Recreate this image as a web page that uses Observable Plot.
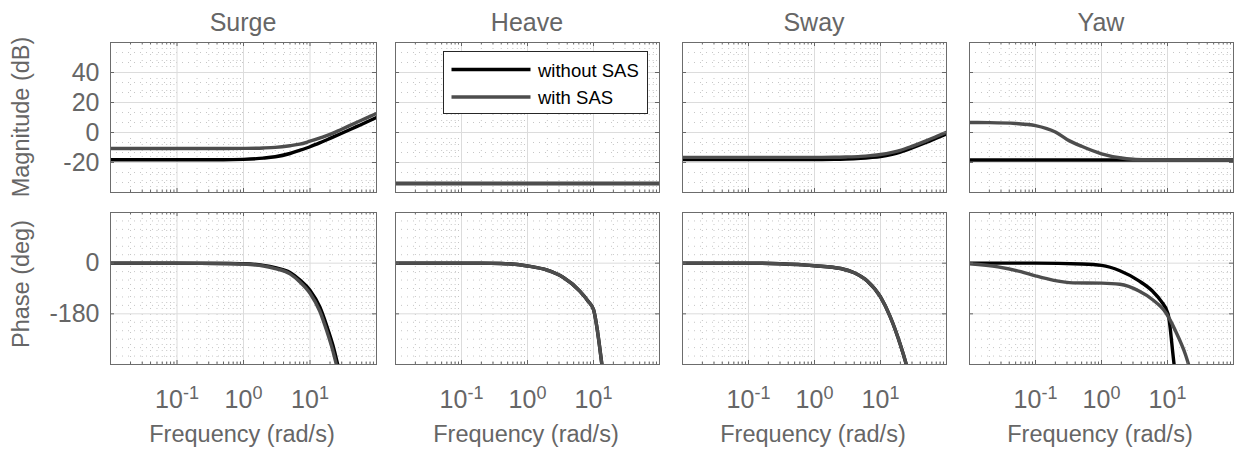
<!DOCTYPE html>
<html>
<head>
<meta charset="utf-8">
<script src="https://cdn.jsdelivr.net/npm/d3@7"></script>
<script src="https://cdn.jsdelivr.net/npm/@observablehq/plot@0.6"></script>
<style>
  html, body { margin: 0; padding: 0; background: #fff; }
  #root { position: relative; width: 1234px; height: 452px; overflow: hidden; }
  #root > svg { position: absolute; }
</style>
</head>
<body>
<div id="root"></div>
<script>
// ---------------- data ----------------
const dofNames = ["Surge", "Heave", "Sway", "Yaw"];
const seriesNames = ["without SAS", "with SAS"];
const seriesColors = ["#000000", "#4d4d4d"];

const magFreq = [0.01, 0.02, 0.05, 0.1, 0.2, 0.3, 0.5, 1, 2, 3, 5, 7, 10, 15, 20, 30, 50, 70, 100];

const surgeMagWithout = [-18.2, -18.2, -18.2, -18.2, -18.2, -18.2, -18.2, -17.9, -17.1, -16.2, -14.0, -11.9, -9.5, -6.3, -3.9, -0.5, 3.9, 6.8, 10.0];
const surgeMagWith    = [-10.7, -10.7, -10.7, -10.7, -10.7, -10.7, -10.7, -10.6, -10.3, -9.9, -8.8, -7.8, -5.8, -3.3, -1.3, 2.2, 6.7, 9.6, 12.7];
const heaveMagWithout = [-34, -34, -34, -34, -34, -34, -34, -34, -34, -34, -34, -34, -34, -34, -34, -34, -34, -34, -34];
const heaveMagWith    = [-34, -34, -34, -34, -34, -34, -34, -34, -34, -34, -34, -34, -34, -34, -34, -34, -34, -34, -34];
const swayMagWithout  = [-18.0, -18.0, -18.0, -18.0, -18.0, -18.0, -18.0, -18.0, -17.9, -17.7, -17.2, -16.7, -16.0, -14.5, -13.0, -10.3, -6.5, -3.8, -1.0];
const swayMagWith     = [-16.6, -16.6, -16.6, -16.6, -16.6, -16.6, -16.6, -16.6, -16.5, -16.3, -15.9, -15.4, -14.7, -13.3, -11.9, -9.2, -5.4, -2.7, 0.2];
const yawMagWithout   = [-18.3, -18.3, -18.3, -18.3, -18.3, -18.3, -18.3, -18.3, -18.3, -18.3, -18.3, -18.3, -18.3, -18.3, -18.3, -18.3, -18.3, -18.3, -18.3];
const yawMagWith      = [6.7, 6.6, 6.0, 4.6, 0.3, -4.6, -9.2, -14.2, -17.0, -17.8, -18.2, -18.3, -18.3, -18.3, -18.3, -18.3, -18.3, -18.3, -18.3];

const surgePhaseFreq    = [0.01, 0.1, 0.5, 1, 2, 3, 5, 7, 10, 14, 18, 22, 26, 30];
const surgePhaseWithout = [0, 0, -1, -2, -8, -16, -33, -59, -96, -155, -225, -290, -358, -420];
const surgePhaseWith    = [0, 0, -1, -3, -10, -19, -38, -66, -107, -170, -243, -310, -378, -440];

const heavePhaseFreq    = [0.01, 0.2, 0.4, 1, 2, 3.5, 6.2, 8.3, 10, 13.4, 14];
const heavePhaseWithout = [0, 0, -1, -10, -25, -51, -99, -135, -165, -360, -395];
const heavePhaseWith    = [0, 0, -1, -10, -25, -51, -99, -135, -165, -360, -395];

const swayPhaseFreq    = [0.01, 0.1, 0.3, 1, 2.5, 4, 6.3, 10, 14, 20, 24.6, 28];
const swayPhaseWithout = [0, 0, -2, -9, -19, -34, -63, -120, -190, -290, -360, -410];
const swayPhaseWith    = [0, 0, -2, -9, -19, -34, -63, -120, -190, -290, -360, -410];

const yawPhaseFreqWithout = [0.01, 0.1, 0.5, 1, 1.9, 3.7, 5.9, 8, 10.2, 12.6, 13.3];
const yawPhaseWithout     = [0, 0, -3, -8, -27, -63, -99, -135, -180, -360, -400];
const yawPhaseFreqWith    = [0.01, 0.027, 0.06, 0.1, 0.19, 0.37, 1, 1.9, 3.7, 5.9, 9.5, 13.3, 18.8, 21.5];
const yawPhaseWith        = [-2, -13, -30, -45, -61, -70, -71, -75, -99, -129, -177, -242, -326, -370];

// axis ticks
const xTickValues = [0.1, 1, 10];
const xTickExponents = ["-1", "0", "1"];
const xMinorTicks = [0.02,0.03,0.04,0.05,0.06,0.07,0.08,0.09, 0.2,0.3,0.4,0.5,0.6,0.7,0.8,0.9, 2,3,4,5,6,7,8,9, 20,30,40,50,60,70,80,90];
const magTicks = [-20, 0, 20, 40];
const magMinor = [-33.33, -26.67, -13.33, -6.67, 6.67, 13.33, 26.67, 33.33, 46.67, 53.33];
const phaseTicks = [-180, 0];
const phaseMinor = [-330, -300, -270, -240, -210, -150, -120, -90, -60, -30, 30, 60, 90, 120, 150];

// ---------------- assemble tables ----------------
function table(freqA, valsA, freqB, valsB) {
  const out = [];
  freqA.forEach((f, i) => out.push({f, v: valsA[i], s: seriesNames[0]}));
  freqB.forEach((f, i) => out.push({f, v: valsB[i], s: seriesNames[1]}));
  return out;
}
const magTables = [
  table(magFreq, surgeMagWithout, magFreq, surgeMagWith),
  table(magFreq, heaveMagWithout, magFreq, heaveMagWith),
  table(magFreq, swayMagWithout, magFreq, swayMagWith),
  table(magFreq, yawMagWithout, magFreq, yawMagWith)
];
const phaseTables = [
  table(surgePhaseFreq, surgePhaseWithout, surgePhaseFreq, surgePhaseWith),
  table(heavePhaseFreq, heavePhaseWithout, heavePhaseFreq, heavePhaseWith),
  table(swayPhaseFreq, swayPhaseWithout, swayPhaseFreq, swayPhaseWith),
  table(yawPhaseFreqWithout, yawPhaseWithout, yawPhaseFreqWith, yawPhaseWith)
];

// ---------------- layout ----------------
const FONT = '"Liberation Sans", Arial, Helvetica, sans-serif';
const TXT = "#666666";
const cols = [[110, 376], [395, 659], [682, 946], [969, 1233]];
const rowBox = {mag: [42, 192], phase: [212, 364]};
const root = document.getElementById("root");
const NS = "http://www.w3.org/2000/svg";

function cell(kind, c) {
  const [x0, x1] = cols[c];
  const [y0, y1] = rowBox[kind];
  const isLeft = c === 0, isBottom = kind === "phase";
  const mL = isLeft ? 110 : 6, mR = 6, mT = 6, mB = isBottom ? 60 : 6;
  const W = x1 - x0, H = y1 - y0;
  const yDomain = kind === "mag" ? [-40, 60] : [-360, 180];
  const yTicks = kind === "mag" ? magTicks : phaseTicks;
  const yMinor = kind === "mag" ? magMinor : phaseMinor;
  const data = kind === "mag" ? magTables[c] : phaseTables[c];
  const marks = [
    Plot.gridX(xMinorTicks, {stroke: "#c6c6c6", strokeOpacity: 1, strokeDasharray: "1,5"}),
    Plot.gridY(yMinor, {stroke: "#c6c6c6", strokeOpacity: 1, strokeDasharray: "1,5"}),
    Plot.gridX(xTickValues, {stroke: "#dcdcdc", strokeOpacity: 1}),
    Plot.gridY(yTicks, {stroke: "#dcdcdc", strokeOpacity: 1}),
    Plot.line(data, {x: "f", y: "v", z: "s", stroke: "s", strokeWidth: 3.4, curve: "monotone-x", clip: true}),
    Plot.tickX(xMinorTicks, {stroke: TXT, insetBottom: H - 2.5}),
    Plot.tickX(xMinorTicks, {stroke: TXT, insetTop: H - 2.5}),
    Plot.tickX(xTickValues, {stroke: TXT, insetBottom: H - 4}),
    Plot.tickX(xTickValues, {stroke: TXT, insetTop: H - 4}),
    Plot.tickY(yTicks, {stroke: TXT, insetRight: W - 4}),
    Plot.tickY(yTicks, {stroke: TXT, insetLeft: W - 4}),
    Plot.frame({stroke: "#6c6c6c"})
  ];
  if (isLeft) marks.push(Plot.axisY(yTicks, {anchor: "left", tickSize: 0, tickPadding: 11, tickFormat: d => String(d), label: null, fontSize: 25}));
  if (isBottom) marks.push(Plot.axisX(xTickValues, {anchor: "bottom", tickSize: 0, tickPadding: 26, tickFormat: d => "10|" + xTickExponents[xTickValues.indexOf(d)], label: null, fontSize: 25}));
  const svg = Plot.plot({
    width: W + mL + mR, height: H + mT + mB,
    marginLeft: mL, marginRight: mR, marginTop: mT, marginBottom: mB,
    x: {type: "log", domain: [0.01, 100], axis: null},
    y: {domain: yDomain, axis: null},
    color: {domain: seriesNames, range: seriesColors},
    style: {fontFamily: FONT, fontSize: "24px", color: TXT, background: "transparent", overflow: "visible"},
    marks
  });
  svg.style.left = (x0 - mL) + "px";
  svg.style.top = (y0 - mT) + "px";
  // superscript exponents on x tick labels
  svg.querySelectorAll('g[aria-label="x-axis tick label"] text').forEach(t => {
    const parts = t.textContent.split("|");
    if (parts.length !== 2) return;
    t.textContent = "";
    const a = document.createElementNS(NS, "tspan"); a.textContent = parts[0];
    const b = document.createElementNS(NS, "tspan"); b.textContent = parts[1];
    b.setAttribute("dy", "-0.52em"); b.setAttribute("font-size", "18");
    t.appendChild(a); t.appendChild(b);
  });
  root.appendChild(svg);
}

for (let c = 0; c < 4; c++) { cell("mag", c); cell("phase", c); }

// ---------------- titles, labels, legend ----------------
const ov = d3.create("svg").attr("width", 1234).attr("height", 452)
  .style("left", "0px").style("top", "0px")
  .style("font-family", FONT).style("pointer-events", "none");
dofNames.forEach((name, c) => {
  const cx = (cols[c][0] + cols[c][1]) / 2;
  ov.append("text").attr("x", cx).attr("y", 31).attr("text-anchor", "middle")
    .attr("font-size", 25).attr("fill", TXT).text(name);
  ov.append("text").attr("x", cx - 1).attr("y", 442).attr("text-anchor", "middle")
    .attr("font-size", 23.5).attr("fill", TXT).text("Frequency (rad/s)");
});
ov.append("text").attr("transform", "translate(29,117) rotate(-90)").attr("text-anchor", "middle")
  .attr("font-size", 23.5).attr("fill", TXT).text("Magnitude (dB)");
ov.append("text").attr("transform", "translate(29,284) rotate(-90)").attr("text-anchor", "middle")
  .attr("font-size", 23.5).attr("fill", TXT).text("Phase (deg)");

const lg = ov.append("g");
lg.append("rect").attr("x", 443.5).attr("y", 51.5).attr("width", 204).attr("height", 62)
  .attr("fill", "#fff").attr("stroke", "#262626").attr("stroke-width", 1);
seriesNames.forEach((s, i) => {
  const y = 69.5 + i * 27.5;
  lg.append("line").attr("x1", 451.5).attr("x2", 530.5).attr("y1", y).attr("y2", y)
    .attr("stroke", seriesColors[i]).attr("stroke-width", 3.4);
  lg.append("text").attr("x", 538).attr("y", y + 7).attr("font-size", 18.5).attr("fill", "#000").text(s);
});
root.appendChild(ov.node());
</script>
</body>
</html>
